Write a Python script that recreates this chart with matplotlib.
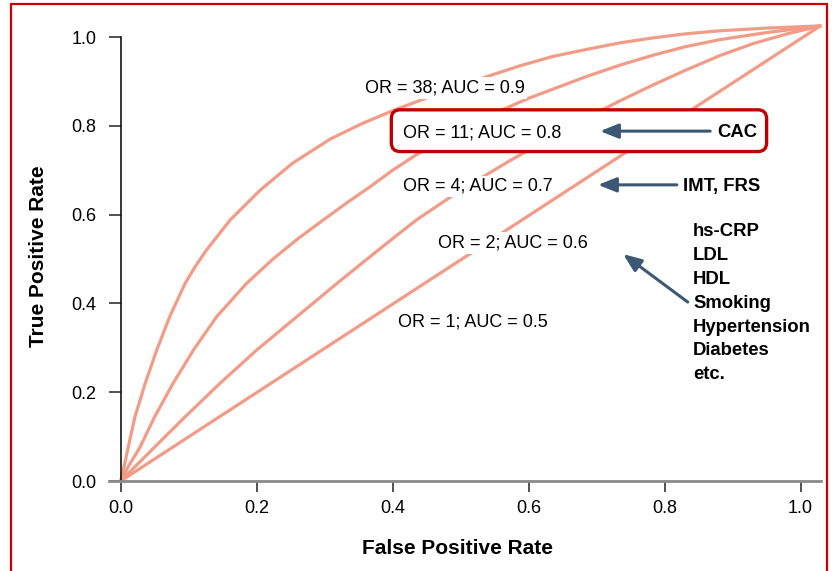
import matplotlib
matplotlib.use("Agg")
import matplotlib.pyplot as plt
from matplotlib.patches import FancyBboxPatch, Rectangle

plt.rcParams['font.family'] = ['Liberation Sans', 'DejaVu Sans']

# ROC curves (false positive rate, true positive rate)
fpr_38 = [0.0, 0.006, 0.013, 0.021, 0.036, 0.053, 0.072, 0.095, 0.110, 0.126, 0.161, 0.205,
          0.253, 0.308, 0.355, 0.400, 0.445, 0.490, 0.533, 0.587, 0.635, 0.685, 0.735,
          0.783, 0.830, 0.881, 0.950, 1.029]
tpr_38 = [0.0, 0.040, 0.090, 0.145, 0.220, 0.295, 0.370, 0.446, 0.484, 0.520, 0.588, 0.655,
          0.716, 0.770, 0.805, 0.834, 0.860, 0.886, 0.908, 0.935, 0.956, 0.972, 0.987,
          0.998, 1.007, 1.014, 1.020, 1.025]

fpr_11 = [0.0, 0.012, 0.028, 0.050, 0.077, 0.107, 0.141, 0.185, 0.224, 0.260, 0.298, 0.333,
          0.367, 0.400, 0.435, 0.470, 0.533, 0.600, 0.685, 0.735, 0.783, 0.830, 0.881,
          0.950, 1.029]
tpr_11 = [0.0, 0.035, 0.075, 0.145, 0.220, 0.295, 0.370, 0.445, 0.500, 0.545, 0.588, 0.627,
          0.663, 0.700, 0.735, 0.766, 0.817, 0.862, 0.911, 0.937, 0.959, 0.978, 0.994,
          1.010, 1.025]

fpr_4 = [0.0, 0.047, 0.095, 0.146, 0.200, 0.259, 0.318, 0.360, 0.400, 0.435, 0.500, 0.573,
         0.636, 0.685, 0.734, 0.783, 0.832, 0.881, 0.930, 0.980, 1.029]
tpr_4 = [0.0, 0.072, 0.145, 0.220, 0.295, 0.370, 0.445, 0.497, 0.546, 0.588, 0.655, 0.722,
         0.776, 0.818, 0.856, 0.892, 0.926, 0.958, 0.985, 1.007, 1.025]

fpr_1 = [0.0, 0.514, 1.029]
tpr_1 = [0.0, 0.512, 1.025]

curve_labels = ["OR = 38; AUC = 0.9", "OR = 11; AUC = 0.8", "OR = 4; AUC = 0.7",
                "OR = 2; AUC = 0.6", "OR = 1; AUC = 0.5"]
label_x = [0.359, 0.415, 0.415, 0.467, 0.408]
label_y = [0.885, 0.784, 0.664, 0.536, 0.358]

risk_factors = ["hs-CRP", "LDL", "HDL", "Smoking", "Hypertension", "Diabetes", "etc."]

line_col = '#f29c88'
arrow_col = '#3d5874'
box_col = '#c00000'

fig = plt.figure(figsize=(8.32, 5.71), dpi=100)
ax = fig.add_axes([0.1308, 0.1576, 0.856, 0.7776])

for fx, ty in [(fpr_38, tpr_38), (fpr_11, tpr_11), (fpr_4, tpr_4), (fpr_1, tpr_1)]:
    ax.plot(fx, ty, color=line_col, lw=2.3, clip_on=False, zorder=2,
            solid_joinstyle='round', solid_capstyle='round')

ax.set_xlim(-0.0175, 1.03)
ax.set_ylim(0, 1)

# the highlight box around the CAC row
box = FancyBboxPatch((0.398, 0.742), 0.552, 0.094,
                     boxstyle="round,pad=0,rounding_size=0.013",
                     mutation_aspect=680 / 444,
                     facecolor='white', edgecolor=box_col, lw=2.4, zorder=3)
ax.add_patch(box)

for txt, x, y in zip(curve_labels, label_x, label_y):
    ax.text(x, y, txt, fontsize=13, ha='left', va='center', zorder=4,
            bbox=dict(facecolor='white', edgecolor='none', pad=1.5))

ax.text(0.877, 0.786, "CAC", fontsize=13.3, fontweight='bold', ha='left', va='center', zorder=5)
ax.text(0.827, 0.664, "IMT, FRS", fontsize=13.3, fontweight='bold', ha='left', va='center', zorder=5)
for i, rf in enumerate(risk_factors):
    ax.text(0.842, 0.561 - i * 0.0536, rf, fontsize=13.3, fontweight='bold',
            ha='left', va='center', zorder=5)

arrow_style = dict(arrowstyle='-|>,head_length=0.55,head_width=0.22', color=arrow_col,
                   lw=2.2, mutation_scale=20, shrinkA=0, shrinkB=0)
ax.annotate("", xy=(0.705, 0.788), xytext=(0.867, 0.788), arrowprops=arrow_style, zorder=5)
ax.annotate("", xy=(0.702, 0.667), xytext=(0.818, 0.667), arrowprops=arrow_style, zorder=5)
ax.annotate("", xy=(0.739, 0.511), xytext=(0.834, 0.403), arrowprops=arrow_style, zorder=5)

# axes styling
for s in ['top', 'right']:
    ax.spines[s].set_visible(False)
ax.spines['left'].set_position(('data', 0))
ax.spines['left'].set_bounds(0, 1)
ax.spines['left'].set_linewidth(1.1)
ax.spines['bottom'].set_color('#8a8a8a')
ax.spines['bottom'].set_linewidth(2.0)

ax.set_xticks([0, 0.2, 0.4, 0.6, 0.8, 1.0])
ax.set_yticks([0, 0.2, 0.4, 0.6, 0.8, 1.0])
ax.set_xticklabels(["0.0", "0.2", "0.4", "0.6", "0.8", "1.0"])
ax.set_yticklabels(["0.0", "0.2", "0.4", "0.6", "0.8", "1.0"])
ax.tick_params(axis='y', length=8.5, width=1.1, pad=9, labelsize=13, color='#222222')
ax.tick_params(axis='x', length=8, width=1.1, pad=6, labelsize=13, color='#222222')

ax.set_xlabel("False Positive Rate", fontsize=15, fontweight='bold', va='center')
ax.xaxis.set_label_coords(0.489, -0.151)
ax.set_ylabel("True Positive Rate", fontsize=15, fontweight='bold', va='center')
ax.yaxis.set_label_coords(-0.099, 0.507)

# red frame round the whole picture
fig.patches.append(Rectangle((11 / 832, -0.05), 816 / 832, 1.05 - 4 / 571,
                             transform=fig.transFigure, fill=False,
                             edgecolor='#cc0000', lw=1.6))

fig.savefig("out.png", dpi=100)
